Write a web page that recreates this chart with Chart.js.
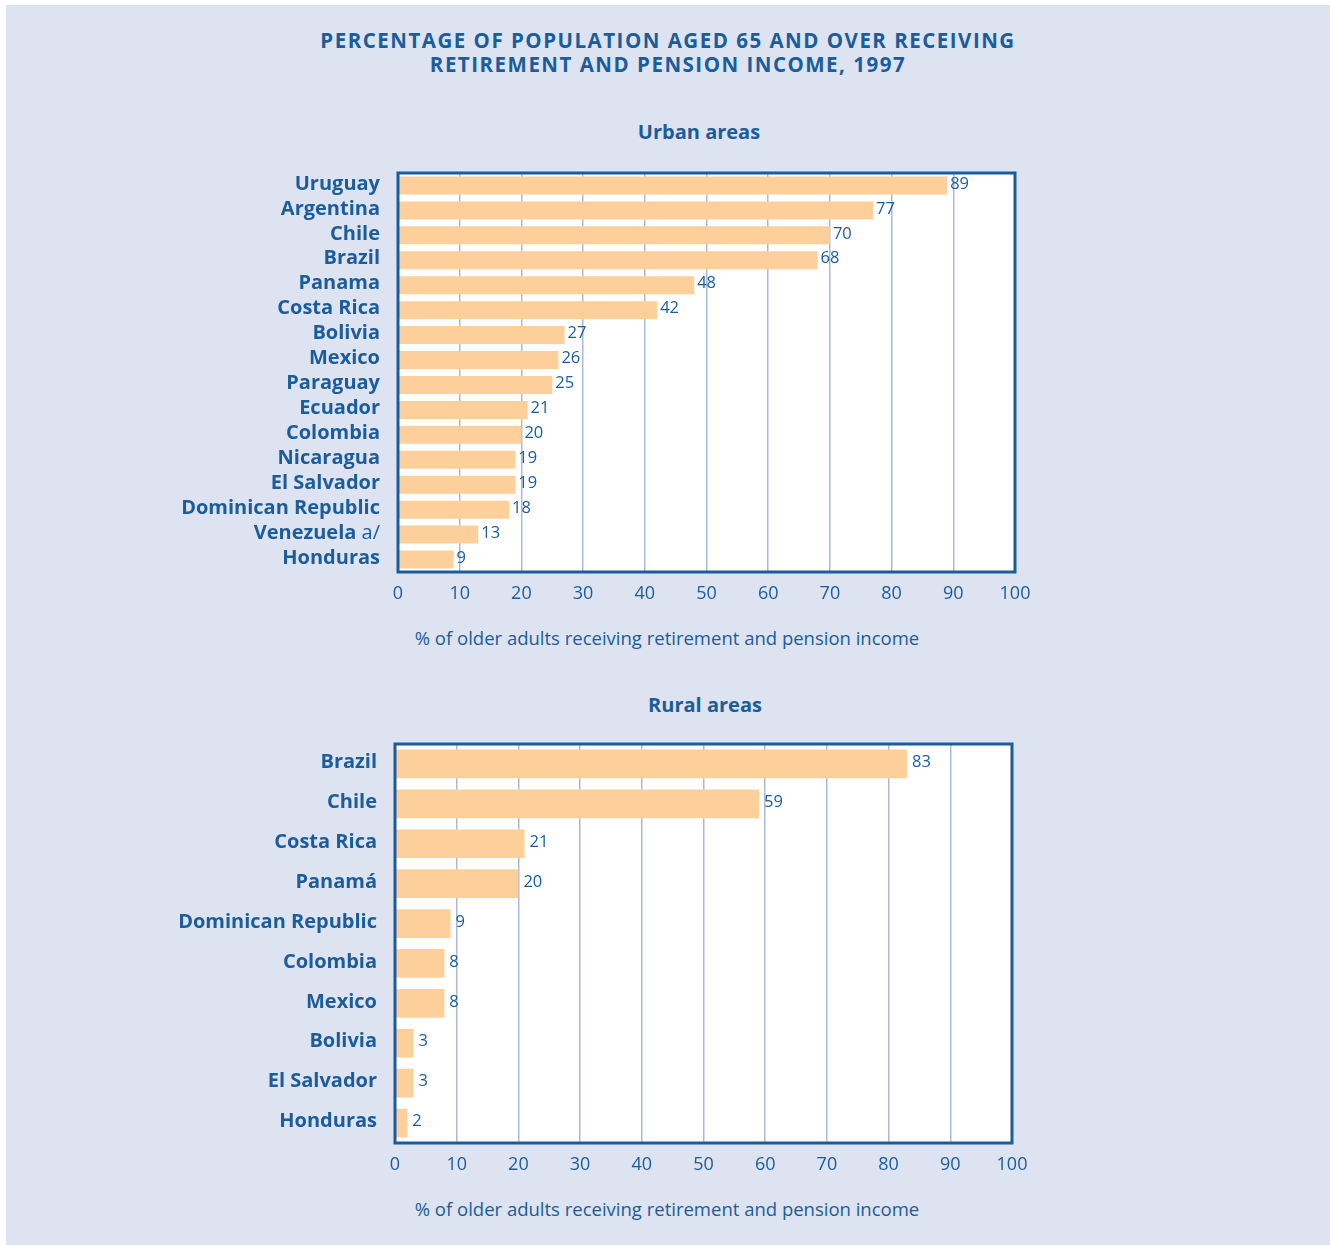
<!DOCTYPE html>
<html>
<head>
<meta charset="utf-8">
<script src="https://cdn.jsdelivr.net/npm/chart.js@4/dist/chart.umd.min.js"></script>
<style>
  html, body { margin: 0; padding: 0; width: 1330px; height: 1245px; overflow: hidden; background: #fff; }
  #page { position: absolute; left: 6px; top: 5px; width: 1324px; height: 1240px; background: #dde3f0; }
  canvas { position: absolute; left: 0; }
  .txt { position: absolute; color: #1b5c9b; font-family: "Open Sans", Lato, sans-serif; white-space: nowrap; line-height: 24px; transform: translate(-50%, -50%); text-align: center; }
  .b { font-weight: bold; }
  .main { font-size: 20.5px; letter-spacing: 1.5px; }
</style>
</head>
<body>
<div id="page"></div>
<div class="txt b main" style="left:668px;top:52px;">PERCENTAGE OF POPULATION AGED 65 AND OVER RECEIVING<br>RETIREMENT AND PENSION INCOME, 1997</div>
<div class="txt b" style="left:699px;top:132px;font-size:20px;">Urban areas</div>
<canvas id="urban" width="1330" height="450" style="top:160px"></canvas>
<div class="txt" style="left:667px;top:638px;font-size:18.5px;">% of older adults receiving retirement and pension income</div>
<div class="txt b" style="left:705px;top:705px;font-size:20px;">Rural areas</div>
<canvas id="rural" width="1330" height="450" style="top:730px"></canvas>
<div class="txt" style="left:667px;top:1209px;font-size:18.5px;">% of older adults receiving retirement and pension income</div>
<script>
// urban areas
const urbanCountries = ['Uruguay', 'Argentina', 'Chile', 'Brazil', 'Panama', 'Costa Rica', 'Bolivia', 'Mexico',
    'Paraguay', 'Ecuador', 'Colombia', 'Nicaragua', 'El Salvador', 'Dominican Republic', 'Venezuela a/', 'Honduras']
const urbanValues = [89, 77, 70, 68, 48, 42, 27, 26, 25, 21, 20, 19, 19, 18, 13, 9]

// rural areas
const ruralCountries = ['Brazil', 'Chile', 'Costa Rica', 'Panamá', 'Dominican Republic', 'Colombia', 'Mexico',
    'Bolivia', 'El Salvador', 'Honduras']
const ruralValues = [83, 59, 21, 20, 9, 8, 8, 3, 3, 2]

const xTickValues = [0, 10, 20, 30, 40, 50, 60, 70, 80, 90, 100]

const BLUE = '#1b5c9b'
const BORDER = '#1a5d9d'
const BAR = '#fccf9b'
const GRID = '#a9badb'
const FONT = '"Open Sans", Lato, sans-serif'

// white plot box, dark frame, country names and value labels
const plotBox = {
    id: 'plotBox',
    beforeDraw(chart) {
        const {ctx, chartArea: a} = chart
        ctx.save()
        ctx.fillStyle = '#fff'
        ctx.fillRect(a.left, a.top, a.right - a.left, a.bottom - a.top)
        ctx.restore()
    },
    afterDatasetsDraw(chart, args, opts) {
        const {ctx, chartArea: a} = chart
        const yScale = chart.scales.y
        const labels = chart.data.labels
        const values = chart.data.datasets[0].data
        const gap = opts.gap || 3
        ctx.save()
        // value labels next to the bar ends
        ctx.fillStyle = BLUE
        ctx.font = '16.5px ' + FONT
        ctx.textAlign = 'left'
        ctx.textBaseline = 'middle'
        chart.getDatasetMeta(0).data.forEach((bar, i) => {
            ctx.fillText(values[i], bar.x + gap, bar.y - 1.5)
        })
        // frame
        ctx.strokeStyle = BORDER
        ctx.lineWidth = 3
        ctx.strokeRect(a.left, a.top, a.right - a.left, a.bottom - a.top)
        // country names, footnote mark in regular weight
        labels.forEach((name, i) => {
            const y = yScale.getPixelForValue(i) - 1.5
            let right = a.left - 18
            const m = name.match(/^(.*?)( a\/)$/)
            if (m) {
                ctx.font = '20px ' + FONT
                ctx.textAlign = 'right'
                ctx.fillText(m[2], right, y)
                right -= ctx.measureText(m[2]).width
                name = m[1]
            }
            ctx.font = 'bold 20px ' + FONT
            ctx.textAlign = 'right'
            ctx.fillText(name, right, y)
        })
        ctx.restore()
    }
}

function makeChart(id, labels, values, pad, axisHeight, gap) {
    return new Chart(document.getElementById(id), {
        type: 'bar',
        data: {
            labels: labels,
            datasets: [{
                data: values,
                backgroundColor: BAR,
                borderWidth: 0,
                barPercentage: 0.72,
                categoryPercentage: 1
            }]
        },
        options: {
            indexAxis: 'y',
            responsive: false,
            animation: false,
            devicePixelRatio: 1,
            layout: {padding: pad},
            plugins: {legend: {display: false}, tooltip: {enabled: false}, plotBox: {gap: gap}},
            scales: {
                x: {
                    min: 0,
                    max: 100,
                    afterBuildTicks: s => { s.ticks = xTickValues.map(v => ({value: v})) },
                    afterFit: s => { s.height = axisHeight },
                    grid: {color: GRID, lineWidth: 1.5, drawTicks: false},
                    border: {display: false},
                    ticks: {color: BLUE, font: {family: FONT, size: 18}, padding: 11.5, maxRotation: 0}
                },
                y: {
                    display: false,
                    offset: true
                }
            }
        },
        plugins: [plotBox]
    })
}

makeChart('urban', urbanCountries, urbanValues, {top: 13, left: 398, right: 315, bottom: 0}, 38, 3)
makeChart('rural', ruralCountries, ruralValues, {top: 14, left: 395, right: 318, bottom: 0}, 37, 5)
</script>
</body>
</html>
